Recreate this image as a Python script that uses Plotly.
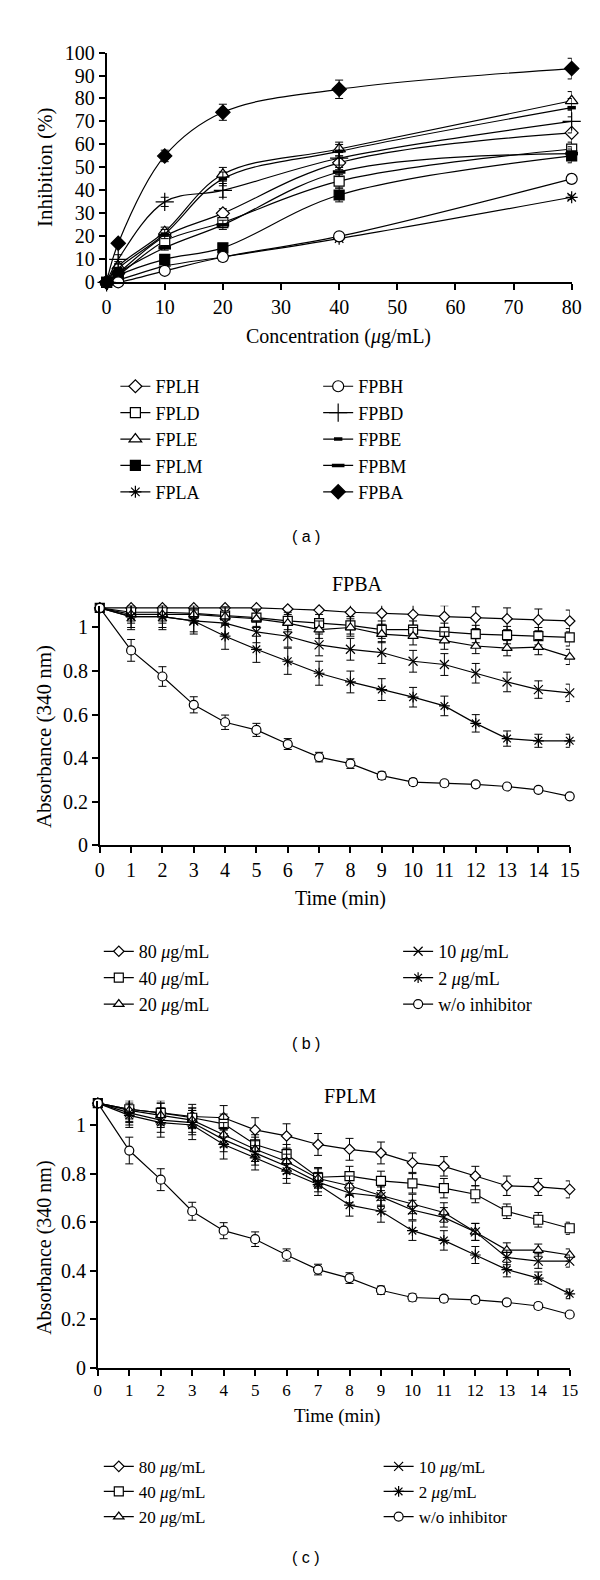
import plotly.graph_objects as go

W, H = 600, 1580
def px(x): return x / W
def py(y): return 1 - y / H

SERIF = "Liberation Serif"
SANS = "Liberation Sans"

# ---------------- Panel (a) data ----------------
conc = [0, 2, 10, 20, 40, 80]
FPLH = [0, 4, 20, 30, 52, 65];   FPLH_err = [0, 1, 2, 2, 3, 5]
FPLD = [0, 3, 18, 26, 44, 58];   FPLD_err = [0, 1, 2, 2, 3, 3]
FPLE = [0, 7, 22, 47, 58, 79];   FPLE_err = [0, 2, 2, 3, 3, 4]
FPLM = [0, 3, 10, 15, 38, 55];   FPLM_err = [0, 1, 1, 1, 3, 3]
FPLA = [0, 1, 7, 11, 19, 37];    FPLA_err = [0, 1, 1, 1, 1, 1]
FPBH = [0, 0, 5, 11, 20, 45];    FPBH_err = [0, 0.5, 1, 1, 1, 2]
FPBD = [0, 10, 35, 40, 54, 70];  FPBD_err = [0, 2, 2, 3, 3, 5]
FPBE = [0, 6, 21, 45, 57, 76];   FPBE_err = [0, 2, 2, 3, 3, 4]
FPBM = [0, 4, 15, 25, 48, 56];   FPBM_err = [0, 1, 1, 2, 2, 3]
FPBA = [0, 17, 55, 74, 84, 93];  FPBA_err = [0, 1, 2.5, 3.5, 4, 4.5]

# ---------------- Panel (b) FPBA data ----------------
time = list(range(16))
b_80 = [1.09, 1.09, 1.09, 1.09, 1.09, 1.09, 1.085, 1.08, 1.07, 1.065, 1.06, 1.05, 1.045, 1.04, 1.035, 1.03]
b_40 = [1.09, 1.07, 1.07, 1.065, 1.055, 1.045, 1.03, 1.02, 1.01, 0.99, 0.99, 0.98, 0.97, 0.965, 0.96, 0.955]
b_20 = [1.09, 1.06, 1.06, 1.06, 1.05, 1.04, 1.02, 0.99, 1.0, 0.97, 0.96, 0.94, 0.915, 0.905, 0.91, 0.865]
b_10 = [1.09, 1.05, 1.05, 1.03, 1.02, 0.98, 0.96, 0.92, 0.90, 0.885, 0.845, 0.83, 0.79, 0.75, 0.715, 0.70]
b_2 = [1.09, 1.05, 1.05, 1.03, 0.96, 0.90, 0.845, 0.79, 0.75, 0.715, 0.68, 0.64, 0.56, 0.49, 0.48, 0.48]
b_wo = [1.09, 0.895, 0.775, 0.645, 0.565, 0.53, 0.465, 0.405, 0.375, 0.32, 0.29, 0.285, 0.28, 0.27, 0.255, 0.225]
b_80_err = [0, .05, .05, .05, .05, .05, .05, .05, .05, .05, .05, .05, .05, .05, .05, .05]
b_40_err = [0, .04, .04, .04, .04, .04, .04, .04, .04, .04, .04, .04, .04, .04, .04, .04]
b_20_err = [0, .04, .04, .04, .04, .04, .04, .04, .04, .04, .04, .04, .035, .035, .035, .035]
b_10_err = [0, .05, .05, .05, .05, .05, .05, .05, .05, .05, .05, .05, .045, .045, .04, .04]
b_2_err = [0, .06, .06, .06, .06, .06, .06, .055, .05, .05, .045, .045, .04, .035, .03, .03]
b_wo_err = [0, .05, .045, .037, .033, .03, .025, .022, .022, .017, .015, .013, .013, .012, .012, .01]

# ---------------- Panel (c) FPLM data ----------------
c_80 = [1.09, 1.065, 1.05, 1.035, 1.03, 0.98, 0.955, 0.92, 0.90, 0.885, 0.845, 0.83, 0.79, 0.75, 0.745, 0.735]
c_40 = [1.09, 1.065, 1.05, 1.03, 1.005, 0.92, 0.88, 0.785, 0.79, 0.77, 0.76, 0.74, 0.715, 0.645, 0.61, 0.575]
c_20 = [1.09, 1.06, 1.04, 1.02, 0.96, 0.90, 0.85, 0.78, 0.75, 0.71, 0.675, 0.64, 0.56, 0.485, 0.485, 0.465]
c_10 = [1.09, 1.05, 1.02, 1.01, 0.94, 0.885, 0.83, 0.765, 0.72, 0.705, 0.65, 0.62, 0.56, 0.455, 0.44, 0.44]
c_2 = [1.09, 1.04, 1.01, 1.00, 0.92, 0.865, 0.81, 0.755, 0.67, 0.645, 0.565, 0.525, 0.465, 0.405, 0.37, 0.305]
c_wo = [1.09, 0.895, 0.775, 0.645, 0.565, 0.53, 0.465, 0.405, 0.37, 0.32, 0.29, 0.285, 0.28, 0.27, 0.255, 0.22]
c_80_err = [0, .05, .05, .05, .05, .05, .05, .045, .045, .045, .04, .04, .04, .04, .035, .035]
c_40_err = [0, .04, .04, .04, .04, .04, .04, .04, .04, .04, .04, .04, .035, .03, .03, .025]
c_20_err = [0, .05, .05, .05, .05, .05, .05, .04, .04, .04, .04, .04, .035, .03, .025, .025]
c_10_err = [0, .05, .05, .05, .05, .05, .05, .04, .04, .04, .04, .04, .035, .03, .03, .025]
c_2_err = [0, .05, .06, .06, .06, .05, .05, .045, .045, .045, .04, .04, .035, .03, .025, .02]
c_wo_err = [0, .055, .045, .037, .033, .03, .025, .022, .022, .017, .015, .013, .013, .012, .012, .01]

names_a_left = ["FPLH", "FPLD", "FPLE", "FPLM", "FPLA"]
names_a_right = ["FPBH", "FPBD", "FPBE", "FPBM", "FPBA"]
conc_names_left = ["80 <i>μ</i>g/mL", "40 <i>μ</i>g/mL", "20 <i>μ</i>g/mL"]
conc_names_right = ["10 <i>μ</i>g/mL", "2 <i>μ</i>g/mL", "w/o inhibitor"]

fig = go.Figure()

def marker(symbol, size, fill="white", lw=1.2):
    return dict(symbol=symbol, size=size, color=fill, line=dict(color="black", width=lw))

def add(x, y, err, name, mk, xa, ya, legend, shape="linear"):
    fig.add_trace(go.Scatter(
        x=x, y=y, name=name, mode="lines+markers",
        line=dict(color="black", width=1.2, shape=shape, smoothing=1.0),
        marker=mk, cliponaxis=False,
        error_y=dict(type="data", array=err, visible=True, color="black", thickness=1, width=4),
        xaxis=xa, yaxis=ya, legend=legend))

# Panel (a)
a_left = [(FPLH, FPLH_err, marker("diamond", 10)),
          (FPLD, FPLD_err, marker("square", 10)),
          (FPLE, FPLE_err, marker("triangle-up", 11)),
          (FPLM, FPLM_err, marker("square", 10, fill="black")),
          (FPLA, FPLA_err, marker("asterisk-open", 10, fill="black"))]
a_right = [(FPBH, FPBH_err, marker("circle", 11)),
           (FPBD, FPBD_err, marker("cross-thin-open", 13, fill="black")),
           (FPBE, FPBE_err, marker("line-ew-open", 6, fill="black", lw=3.5)),
           (FPBM, FPBM_err, marker("line-ew-open", 9, fill="black", lw=3.5)),
           (FPBA, FPBA_err, marker("diamond", 11, fill="black"))]
for (y, e, mk), n in zip(a_left, names_a_left):
    add(conc, y, e, n, mk, "x", "y", "legend", shape="spline")
for (y, e, mk), n in zip(a_right, names_a_right):
    add(conc, y, e, n, mk, "x", "y", "legend2", shape="spline")

# Panel (b) and (c)
def kin_markers():
    return [marker("diamond", 8), marker("square", 9), marker("triangle-up", 9),
            marker("x-thin-open", 9, fill="black"), marker("asterisk-open", 9, fill="black"),
            marker("circle", 9)]

b_series = [(b_80, b_80_err), (b_40, b_40_err), (b_20, b_20_err),
            (b_10, b_10_err), (b_2, b_2_err), (b_wo, b_wo_err)]
c_series = [(c_80, c_80_err), (c_40, c_40_err), (c_20, c_20_err),
            (c_10, c_10_err), (c_2, c_2_err), (c_wo, c_wo_err)]
names_k = conc_names_left + conc_names_right

for i, ((y, e), mk) in enumerate(zip(b_series, kin_markers())):
    add(time, y, e, names_k[i], mk, "x2", "y2", "legend3" if i < 3 else "legend4")
for i, ((y, e), mk) in enumerate(zip(c_series, kin_markers())):
    add(time, y, e, names_k[i], mk, "x3", "y3", "legend5" if i < 3 else "legend6")

axis_style = dict(showline=True, linecolor="black", linewidth=1.5, ticks="outside",
                  ticklen=6, tickwidth=1.5, tickcolor="black", showgrid=False,
                  zeroline=False, fixedrange=True)

def leg(x, ytop, size=18):
    return dict(x=px(x), y=py(ytop), xanchor="left", yanchor="top", orientation="v",
                bgcolor="rgba(0,0,0,0)", borderwidth=0, traceorder="normal",
                font=dict(family=SERIF, size=size, color="black"))

fig.update_layout(
    width=W, height=H, margin=dict(l=0, r=0, t=0, b=0),
    paper_bgcolor="white", plot_bgcolor="white", showlegend=True,
    font=dict(family=SERIF, color="black"),
    xaxis=dict(domain=[px(96), px(573)], range=[0, 80], dtick=10, tick0=0, anchor="y",
               tickfont=dict(family=SERIF, size=20), **axis_style),
    yaxis=dict(domain=[py(267), py(34)], range=[0, 100], dtick=10, tick0=0, anchor="x",
               tickfont=dict(family=SERIF, size=20), **axis_style),
    xaxis2=dict(domain=[px(89), px(571)], range=[0, 15], dtick=1, tick0=0, anchor="y2",
                tickfont=dict(family=SERIF, size=20), **axis_style),
    yaxis2=dict(domain=[py(838), py(595)], range=[0, 1.1], tickvals=[0, 0.2, 0.4, 0.6, 0.8, 1],
                ticktext=["0", "0.2", "0.4", "0.6", "0.8", "1"], anchor="x2",
                tickfont=dict(family=SERIF, size=20), **axis_style),
    xaxis3=dict(domain=[px(87), px(571)], range=[0, 15], dtick=1, tick0=0, anchor="y3",
                tickfont=dict(family=SERIF, size=17), **axis_style),
    yaxis3=dict(domain=[py(1368), py(1097)], range=[0, 1.1], tickvals=[0, 0.2, 0.4, 0.6, 0.8, 1],
                ticktext=["0", "0.2", "0.4", "0.6", "0.8", "1"], anchor="x3",
                tickfont=dict(family=SERIF, size=20), **axis_style),
    legend=leg(105, 354),
    legend2=leg(313, 354),
    legend3=leg(88, 927),
    legend4=leg(395, 927),
    legend5=leg(88, 1450, 17),
    legend6=leg(375, 1450, 17),
)

ann = [
    dict(text="Inhibition (%)", x=px(33), y=py(150), textangle=-90, size=21, fam=SERIF),
    dict(text="Concentration (<i>μ</i>g/mL)", x=px(334), y=py(322), size=20, fam=SERIF),
    dict(text="( a )", x=px(300), y=py(525), size=16, fam=SANS),
    dict(text="FPBA", x=px(353), y=py(573), size=20, fam=SERIF),
    dict(text="Absorbance (340 nm)", x=px(32), y=py(728), textangle=-90, size=21, fam=SERIF),
    dict(text="Time (min)", x=px(336), y=py(892), size=20, fam=SERIF),
    dict(text="( b )", x=px(300), y=py(1039), size=16, fam=SANS),
    dict(text="FPLM", x=px(346), y=py(1092), size=20, fam=SERIF),
    dict(text="Absorbance (340 nm)", x=px(32), y=py(1246), textangle=-90, size=20, fam=SERIF),
    dict(text="Time (min)", x=px(332), y=py(1417), size=19, fam=SERIF),
    dict(text="( c )", x=px(300), y=py(1560), size=16, fam=SANS),
]
for a in ann:
    fig.add_annotation(text=a["text"], x=a["x"], y=a["y"], xref="paper", yref="paper",
                       xanchor="center", yanchor="middle", showarrow=False,
                       textangle=a.get("textangle", 0),
                       font=dict(family=a["fam"], size=a["size"], color="black"))

fig.write_html("out.html")
